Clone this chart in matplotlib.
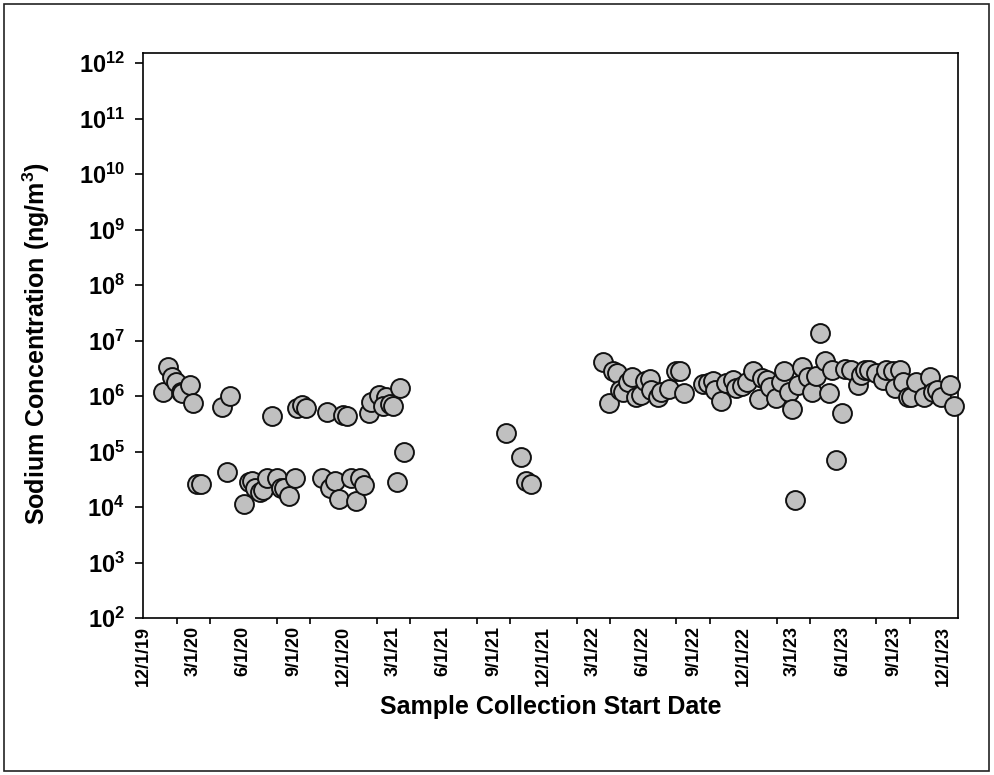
import numpy as np
import matplotlib
matplotlib.use("Agg")
import matplotlib.pyplot as plt
import matplotlib.dates as mdates
from matplotlib.ticker import FixedLocator, FuncFormatter, NullFormatter
from matplotlib.patches import Rectangle

plt.rcParams["font.family"] = ["Liberation Sans", "DejaVu Sans"]
plt.rcParams["font.weight"] = "bold"
plt.rcParams["mathtext.fontset"] = "custom"
plt.rcParams["mathtext.rm"] = "Liberation Sans:bold"
plt.rcParams["mathtext.it"] = "Liberation Sans:bold:italic"
plt.rcParams["mathtext.bf"] = "Liberation Sans:bold"

# Sample collection start dates and sodium concentrations (ng/m^3)
sample_dates = [
    "2020-01-07", "2020-01-15", "2020-01-23", "2020-01-31", "2020-02-08",
    "2020-02-11", "2020-02-25", "2020-03-02", "2020-04-23", "2020-05-08",
    "2020-07-23", "2020-09-08", "2020-09-17", "2020-09-24", "2020-10-31",
    "2020-12-01", "2020-12-08", "2021-01-17", "2021-01-20", "2021-02-03",
    "2021-02-17", "2021-02-11", "2021-02-23", "2021-03-02", "2021-03-15",
    "2021-03-22", "2021-03-08",
    "2020-03-08", "2020-03-15", "2020-05-02", "2020-06-02", "2020-06-11",
    "2020-06-17", "2020-06-23", "2020-07-01", "2020-07-07", "2020-07-14",
    "2020-08-01", "2020-08-08", "2020-08-14", "2020-08-23", "2020-09-03",
    "2020-10-23", "2020-11-07", "2020-11-16", "2020-11-22", "2020-12-14",
    "2020-12-23", "2021-01-01", "2021-01-08",
    "2021-09-23", "2021-10-21", "2021-10-31", "2021-11-08",
    "2022-03-20", "2022-03-31", "2022-04-07", "2022-04-14", "2022-04-19",
    "2022-04-25", "2022-05-04", "2022-05-12", "2022-05-19", "2022-05-28",
    "2022-06-04", "2022-06-13", "2022-06-16", "2022-06-28", "2022-07-04",
    "2022-07-19", "2022-08-01", "2022-08-07", "2022-08-14", "2022-09-19",
    "2022-09-28", "2022-10-06", "2022-10-10", "2022-10-21", "2022-10-31",
    "2022-11-12", "2022-11-18", "2022-11-28", "2022-12-07", "2022-12-19",
    "2022-12-30", "2023-01-04", "2023-01-13", "2023-01-19", "2023-01-30",
    "2023-02-07", "2023-02-14", "2023-02-22", "2023-02-28", "2023-03-06",
    "2023-03-11", "2023-03-19", "2023-03-29", "2023-04-06", "2023-04-12",
    "2023-04-20", "2023-04-29", "2023-05-06", "2023-05-12", "2023-05-20",
    "2023-05-30", "2023-06-04", "2023-06-16", "2023-06-28", "2023-07-04",
    "2023-07-12", "2023-07-19", "2023-08-01", "2023-08-13", "2023-08-18",
    "2023-09-01", "2023-09-04", "2023-09-13", "2023-09-19", "2023-09-28",
    "2023-10-04", "2023-10-13", "2023-10-26", "2023-11-06", "2023-11-13",
    "2023-11-20", "2023-11-27", "2023-12-14", "2023-12-21",
]
sodium_ng_m3 = [
    1.2e6, 3.3e6, 2.2e6, 1.8e6, 1.2e6,
    1.15e6, 1.6e6, 7.4e5, 6.4e5, 1.0e6,
    4.4e5, 6.2e5, 6.8e5, 6.0e5, 5.1e5,
    4.6e5, 4.4e5, 4.9e5, 7.9e5, 1.05e6,
    9.5e5, 6.6e5, 7.1e5, 6.6e5, 1.4e6,
    1.0e5, 2.8e4,
    2.65e4, 2.6e4, 4.35e4, 1.13e4, 2.8e4,
    3.0e4, 2.2e4, 1.9e4, 2.0e4, 3.3e4,
    3.3e4, 2.25e4, 2.2e4, 1.55e4, 3.4e4,
    3.4e4, 2.2e4, 2.9e4, 1.4e4, 3.4e4,
    1.28e4, 3.3e4, 2.5e4,
    2.2e5, 8.0e4, 3.0e4, 2.6e4,
    4.2e6, 7.4e5, 2.8e6, 2.6e6, 1.3e6,
    1.2e6, 1.8e6, 2.2e6, 9.8e5, 1.05e6,
    1.9e6, 2.0e6, 1.3e6, 9.8e5, 1.2e6,
    1.37e6, 2.8e6, 2.8e6, 1.15e6, 1.65e6,
    1.75e6, 1.9e6, 1.3e6, 8.2e5, 1.7e6,
    1.95e6, 1.38e6, 1.52e6, 1.8e6, 2.8e6,
    8.7e5, 2.1e6, 1.95e6, 1.45e6, 9.2e5,
    1.8e6, 2.8e6, 1.2e6, 5.8e5, 1.34e4,
    1.6e6, 3.4e6, 2.25e6, 1.2e6, 2.3e6,
    1.39e7, 4.3e6, 1.15e6, 2.9e6, 7.0e4,
    5.0e5, 3.1e6, 2.9e6, 1.6e6, 2.4e6,
    3.0e6, 2.9e6, 2.6e6, 1.95e6, 2.9e6,
    2.8e6, 1.38e6, 2.9e6, 1.8e6, 9.8e5,
    9.8e5, 1.8e6, 9.8e5, 2.2e6, 1.2e6,
    1.3e6, 9.8e5, 1.6e6, 6.6e5,
]

# Labelled dates (quarterly) and the tick-mark dates along the x axis
label_dates = [
    "2019-12-01", "2020-03-01", "2020-06-01", "2020-09-01",
    "2020-12-01", "2021-03-01", "2021-06-01", "2021-09-01",
    "2021-12-01", "2022-03-01", "2022-06-01", "2022-09-01",
    "2022-12-01", "2023-03-01", "2023-06-01", "2023-09-01",
    "2023-12-01",
]
label_text = [
    "12/1/19", "3/1/20", "6/1/20", "9/1/20",
    "12/1/20", "3/1/21", "6/1/21", "9/1/21",
    "12/1/21", "3/1/22", "6/1/22", "9/1/22",
    "12/1/22", "3/1/23", "6/1/23", "9/1/23",
    "12/1/23",
]
mark_dates = [
    "2019-12-01",
    "2020-02-01", "2020-04-01", "2020-08-01", "2020-10-01",
    "2021-02-01", "2021-04-01", "2021-08-01", "2021-10-01",
    "2022-02-01", "2022-04-01", "2022-08-01", "2022-10-01",
    "2023-02-01", "2023-04-01", "2023-08-01", "2023-10-01",
]
decades = list(range(2, 13))

x_start, x_end = "2019-12-01", "2023-12-28"
y_low, y_high = 1e2, 1.53e12

to_num = lambda seq: mdates.date2num(np.array(seq, dtype="datetime64[D]"))

fig = plt.figure(figsize=(9.94, 7.75), dpi=100)
ax = fig.add_axes([0.1439, 0.2026, 0.8199, 0.729])

ax.scatter(to_num(sample_dates), sodium_ng_m3, s=185, facecolor="#c0c0c0",
           edgecolor="#111111", linewidth=1.4, zorder=3, clip_on=False)

ax.set_yscale("log")
ax.set_ylim(y_low, y_high)
ax.set_xlim(to_num([x_start])[0], to_num([x_end])[0])

ax.yaxis.set_major_locator(FixedLocator([10.0 ** d for d in decades]))
ax.yaxis.set_minor_locator(FixedLocator([]))
ax.yaxis.set_major_formatter(FuncFormatter(
    lambda v, pos: r"$\mathregular{10^{%d}}$" % round(np.log10(v))))

ax.xaxis.set_major_locator(FixedLocator(to_num(label_dates)))
ax.xaxis.set_major_formatter(FuncFormatter(lambda v, pos: label_text[pos]))
ax.xaxis.set_minor_locator(FixedLocator(to_num(mark_dates)))
ax.xaxis.set_minor_formatter(NullFormatter())

ax.tick_params(axis="y", which="major", direction="out", length=6, width=1.2,
               labelsize=17, pad=7)
ax.tick_params(axis="x", which="major", length=0, labelsize=13,
               labelrotation=90, pad=6)
ax.tick_params(axis="x", which="minor", direction="out", length=4.5,
               width=1.2)
for lab in ax.get_xticklabels():
    lab.set_fontweight("bold")

for sp in ax.spines.values():
    sp.set_linewidth(1.2)

ax.set_ylabel(r"Sodium Concentration (ng/m$^3$)", fontsize=18,
              fontweight="bold", labelpad=16)
ax.yaxis.set_label_coords(-0.112, 0.485)
ax.set_xlabel("Sample Collection Start Date", fontsize=18,
              fontweight="bold", labelpad=6)

fig.patches.append(Rectangle((0.004, 0.005), 0.991, 0.99,
                             transform=fig.transFigure, fill=False,
                             edgecolor="#222222", linewidth=1.2))

fig.savefig("out.png", dpi=100)
